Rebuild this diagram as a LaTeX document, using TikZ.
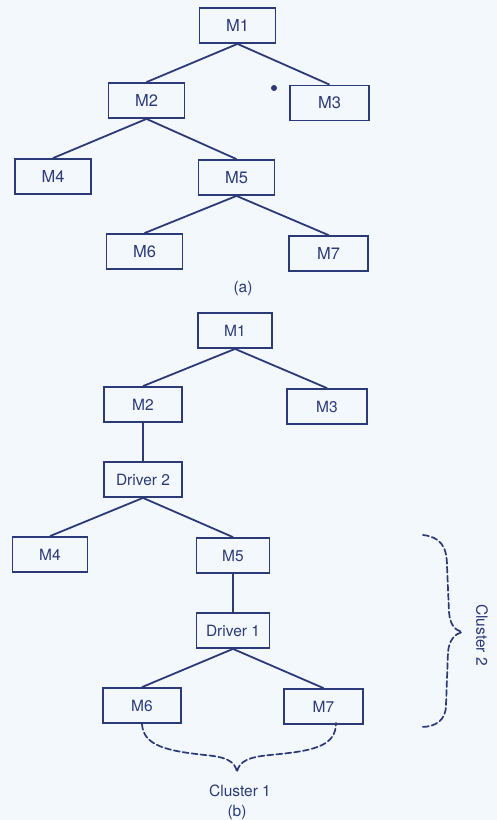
\documentclass[tikz,border=0pt]{standalone}
\usepackage{fontspec}
\setmainfont{TeX Gyre Heros}
\definecolor{ink}{HTML}{2C3A78}
\definecolor{paper}{HTML}{F3F8FC}
\begin{document}
\begin{tikzpicture}[x=1pt,y=-1pt,
  every node/.style={font=\fontsize{15.5}{18}\selectfont, text=ink},
  big/.style={font=\fontsize{16.5}{19}\selectfont},
  mbox/.style={draw=ink, line width=1.8pt, rectangle, minimum width=76pt, minimum height=35pt, inner sep=0pt},
  link/.style={draw=ink, line width=1.8pt},
  brace/.style={draw=ink, line width=1.7pt, dash pattern=on 6pt off 3pt, line cap=round}]
\useasboundingbox (0,0) rectangle (497,820);
\fill[paper] (0,0) rectangle (497,820);
% (a)
\node[mbox, big] (a1) at (237.5,25.5) {M1};
\node[mbox, big] (a2) at (146.5,100.5) {M2};
\node[mbox, big, minimum width=79pt] (a3) at (329.5,103) {M3};
\node[mbox, big] (a4) at (53,176.5) {M4};
\node[mbox, big] (a5) at (236.5,177.5) {M5};
\node[mbox, big] (a6) at (144.5,251.5) {M6};
\node[mbox, big, minimum width=79pt] (a7) at (328.5,253.5) {M7};
\draw[link] (a1.south) -- (a2.north);
\draw[link] (a1.south) -- (a3.north);
\draw[link] (a2.south) -- (a4.north);
\draw[link] (a2.south) -- (a5.north);
\draw[link] (a5.south) -- (a6.north);
\draw[link] (a5.south) -- (a7.north);
\fill[ink] (274,88) circle (3pt);
\node (capa) at (243,288) {(a)};
% (b)
\node[mbox, minimum width=74pt] (b1) at (235,330.5) {M1};
\node[mbox, minimum width=78pt] (b2) at (143,404.5) {M2};
\node[mbox, minimum width=80pt] (b3) at (327,406.5) {M3};
\node[mbox, minimum width=78pt] (d2) at (143,479.5) {Driver 2};
\node[mbox, minimum width=75pt] (b4) at (50,554.5) {M4};
\node[mbox, minimum width=73pt] (b5) at (233,555.5) {M5};
\node[mbox, minimum width=73pt] (d1) at (233,630.5) {Driver 1};
\node[mbox, minimum width=78pt] (b6) at (142,705.5) {M6};
\node[mbox, minimum width=79pt] (b7) at (323.5,706.5) {M7};
\draw[link] (b1.south) -- (b2.north);
\draw[link] (b1.south) -- (b3.north);
\draw[link] (b2.south) -- (d2.north);
\draw[link] (d2.south) -- (b4.north);
\draw[link] (d2.south) -- (b5.north);
\draw[link] (b5.south) -- (d1.north);
\draw[link] (d1.south) -- (b6.north);
\draw[link] (d1.south) -- (b7.north);
% cluster 1 brace
\coordinate (c1l) at (b6.south);
\coordinate (c1r) at (336,723);
\coordinate (c1tip) at (237,772);
\draw[brace] (c1l) .. controls (143,746) and (168,751) .. (205,755)
  .. controls (226,757) and (235,761) .. (c1tip)
  .. controls (239,761) and (249,757) .. (270,755)
  .. controls (312,751) and (336,747) .. (c1r);
\node (cl1) at (240,791) {Cluster 1};
\node (capb) at (237,812) {(b)};
% cluster 2 brace
\coordinate (c2t) at (423,535);
\coordinate (c2b) at (421,727);
\coordinate (c2tip) at (462,632);
\draw[brace] (c2t) .. controls (440,537) and (447,546) .. (447,566)
  -- (449,612) .. controls (450,625) and (455,630) .. (c2tip)
  .. controls (455,634) and (449,640) .. (448,652)
  -- (446,705) .. controls (446,720) and (436,727) .. (c2b);
\node[rotate=-90] (cl2) at (482,635) {Cluster 2};
\end{tikzpicture}
\end{document}
